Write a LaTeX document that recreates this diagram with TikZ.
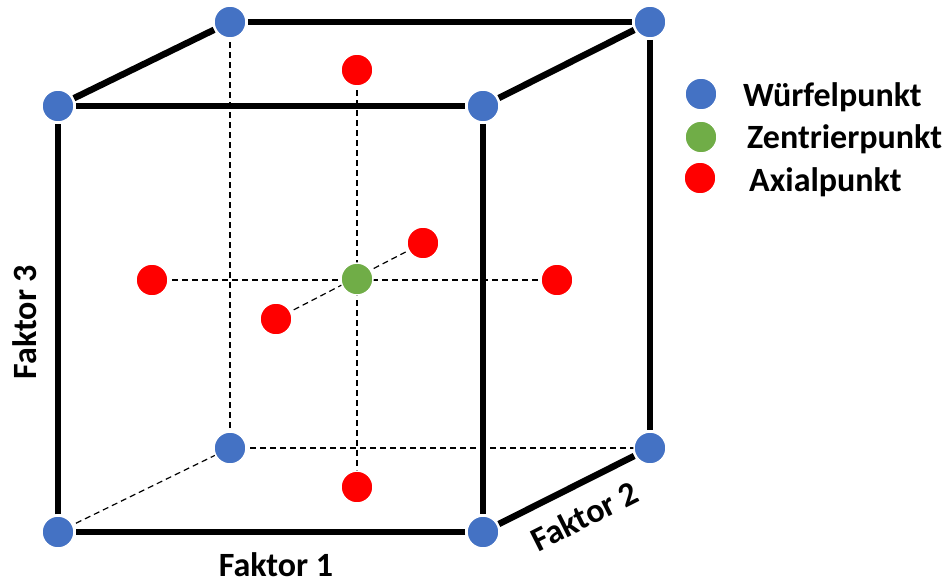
\documentclass[tikz,border=0pt]{standalone}
\usepackage{fontspec}
\setmainfont{Carlito}
\begin{document}
\begin{tikzpicture}[x=1pt,y=-1pt,
  dot/.style={circle,inner sep=0pt,minimum size=32pt,draw=white,line width=1.5pt},
  blue dot/.style={dot,fill=cubeblue},
  green dot/.style={dot,fill=centgreen},
  red dot/.style={dot,fill=axred},
  edge/.style={line width=6.5pt,shorten <=1pt,shorten >=1pt},
  dashline/.style={line width=1.2pt,dash pattern=on 6pt off 4pt},
  lbl/.style={font=\bfseries\fontsize{34}{40}\selectfont,inner sep=0pt},
  leg/.style={font=\bfseries\fontsize{34}{40}\selectfont,anchor=west,inner sep=0pt}]
\definecolor{cubeblue}{RGB}{68,114,196}
\definecolor{centgreen}{RGB}{112,173,71}
\definecolor{axred}{RGB}{255,0,0}
\useasboundingbox (0,0) rectangle (952,584);
% coordinates
\coordinate (FTLc) at (58,106);
\coordinate (FTRc) at (483,106);
\coordinate (FBLc) at (58,532);
\coordinate (FBRc) at (483,532);
\coordinate (BTLc) at (230,22);
\coordinate (BTRc) at (650,22);
\coordinate (BBLc) at (230,448);
\coordinate (BBRc) at (650,448);
\coordinate (Ctr) at (357,279);
\coordinate (Atop) at (357,70);
\coordinate (Abot) at (357,487);
\coordinate (Aleft) at (152,280);
\coordinate (Aright) at (557,280);
\coordinate (Afront) at (276,319);
\coordinate (Aback) at (423,243);
% dashed lines
\draw[dashline] (BTLc) -- (BBLc);
\draw[dashline] (BBLc) -- (BBRc);
\draw[dashline] (FBLc) -- (BBLc);
\draw[dashline] (Atop) -- (Abot);
\draw[dashline] (Aleft) -- (Aright);
\draw[dashline] (Afront) -- (Aback);
% dots
\node[blue dot] (FTL) at (FTLc) {};
\node[blue dot] (FTR) at (FTRc) {};
\node[blue dot] (FBL) at (FBLc) {};
\node[blue dot] (FBR) at (FBRc) {};
\node[blue dot] (BTL) at (BTLc) {};
\node[blue dot] (BTR) at (BTRc) {};
\node[blue dot] (BBL) at (BBLc) {};
\node[blue dot] (BBR) at (BBRc) {};
\node[green dot] (C) at (Ctr) {};
\node[red dot] (AT) at (Atop) {};
\node[red dot] (AB) at (Abot) {};
\node[red dot] (AL) at (Aleft) {};
\node[red dot] (AR) at (Aright) {};
\node[red dot] (AF) at (Afront) {};
\node[red dot] (AK) at (Aback) {};
% thick edges
\draw[edge] (FTL) -- (FTR);
\draw[edge] (FTR) -- (FBR);
\draw[edge] (FBR) -- (FBL);
\draw[edge] (FBL) -- (FTL);
\draw[edge] (BTL) -- (BTR);
\draw[edge] (BTR) -- (BBR);
\draw[edge] (FTL) -- (BTL);
\draw[edge] (FTR) -- (BTR);
\draw[edge] (FBR) -- (BBR);
% labels
\node[lbl] (f1) at (276,565) {Faktor 1};
\node[lbl,rotate=90] (f3) at (25,322) {Faktor 3};
\node[lbl,rotate=26.7] (f2) at (584,516) {Faktor 2};
% legend
\node[blue dot] (L1) at (701,94) {};
\node[green dot] (L2) at (701,137) {};
\node[red dot] (L3) at (700,178) {};
\node[leg] (t1) at (743,97) {Würfelpunkt};
\node[leg] (t2) at (747,139) {Zentrierpunkt};
\node[leg] (t3) at (749,182) {Axialpunkt};
\end{tikzpicture}
\end{document}
